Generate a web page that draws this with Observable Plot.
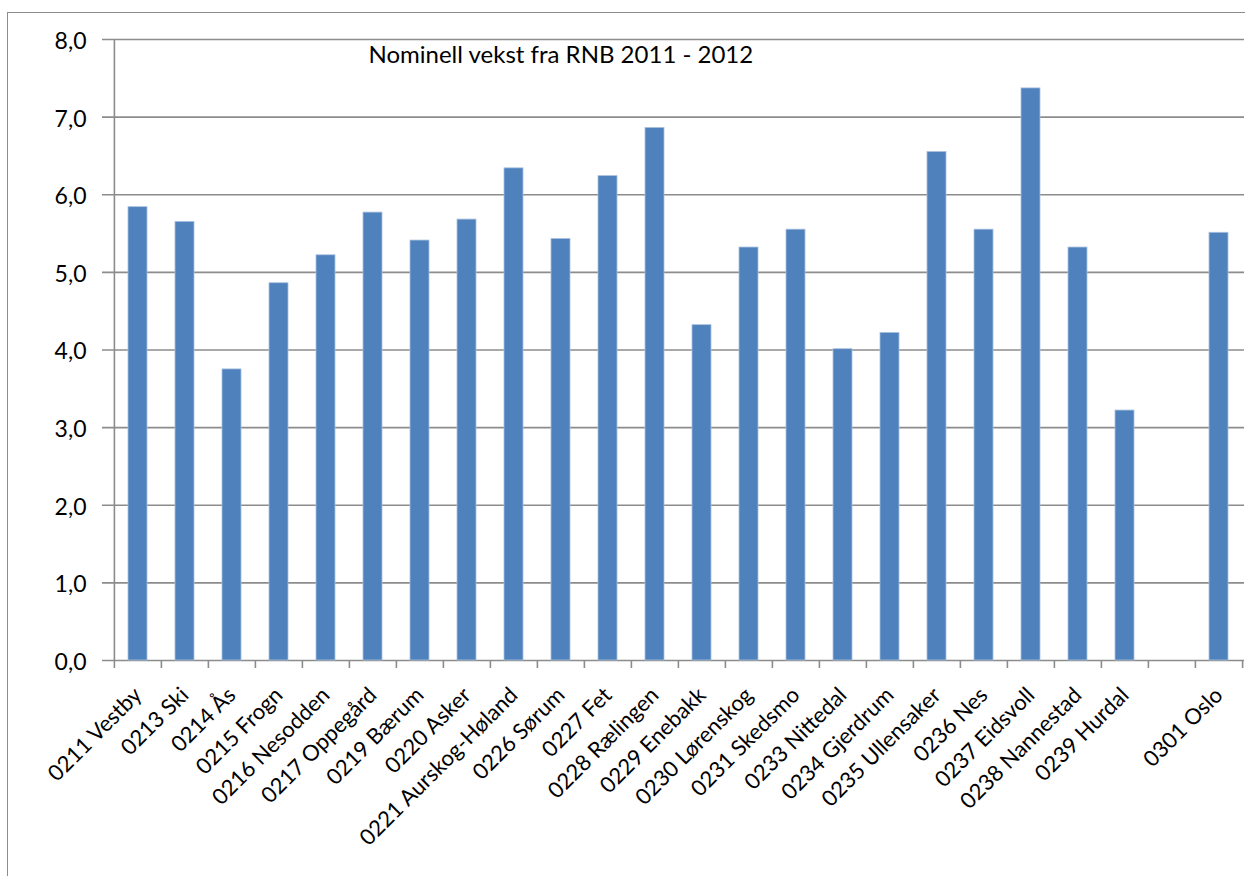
<!DOCTYPE html>
<html><head><meta charset="utf-8">
<script src="https://cdn.jsdelivr.net/npm/d3@7"></script>
<script src="https://cdn.jsdelivr.net/npm/@observablehq/plot@0.6"></script>
<style>
body{margin:0;background:#fff;}
#wrap{position:relative;width:1245px;height:876px;overflow:hidden;}
#chart{position:absolute;left:0;top:0;}
#frame{position:absolute;left:7px;top:12px;width:1300px;height:900px;border-left:1.5px solid #8c8c8c;border-top:1.5px solid #8c8c8c;pointer-events:none;}
</style></head><body>
<div id="wrap"><div id="chart"></div><div id="frame"></div></div>
<script>
const title = "Nominell vekst fra RNB 2011 - 2012";
const categories = ["0211 Vestby","0213 Ski","0214 Ås","0215 Frogn","0216 Nesodden","0217 Oppegård","0219 Bærum","0220 Asker","0221 Aurskog-Høland","0226 Sørum","0227 Fet","0228 Rælingen","0229 Enebakk","0230 Lørenskog","0231 Skedsmo","0233 Nittedal","0234 Gjerdrum","0235 Ullensaker","0236 Nes","0237 Eidsvoll","0238 Nannestad","0239 Hurdal","","0301 Oslo"];
const values = [5.84,5.65,3.75,4.86,5.22,5.77,5.41,5.68,6.34,5.43,6.24,6.86,4.32,5.32,5.55,4.01,4.22,6.55,5.55,7.37,5.32,3.22,null,5.51];
const yTicks = [0,1,2,3,4,5,6,7,8];

const W = 1245, H = 876, ML = 111, MR = 1, MT = 39, MB = 216;
const step = (W - ML - MR) / categories.length;
const data = categories.map((name, i) => ({name, value: values[i]})).filter(d => d.value != null);
const fmt = d => d.toFixed(1).replace(".", ",");
const gridColor = "#8c8c8c";
const font = "Lato, 'Open Sans', sans-serif";

const plot = Plot.plot({
  width: W, height: H,
  marginLeft: ML, marginRight: MR, marginTop: MT, marginBottom: MB,
  style: {fontFamily: font, fontSize: "21px", background: "transparent", color: "#000"},
  x: {domain: categories, paddingInner: 0.6, paddingOuter: 0.3, axis: null},
  y: {domain: [0, 8], axis: null},
  marks: [
    Plot.ruleY(yTicks, {y: d => d, stroke: gridColor, strokeWidth: 1.6, insetLeft: -9}),
    Plot.ruleX(categories, {x: d => d, dx: -step / 2, y1: 0, y2: 0, insetBottom: -8, stroke: gridColor, strokeWidth: 1.6}),
    Plot.ruleX(categories.slice(-1), {x: d => d, dx: step / 2, y1: 0, y2: 0, insetBottom: -8, stroke: gridColor, strokeWidth: 1.6}),
    Plot.ruleX(categories.slice(0, 1), {x: d => d, dx: -step / 2, y1: 0, y2: 8, stroke: gridColor, strokeWidth: 1.6}),
    Plot.barY(data, {x: "name", y: "value", fill: "#4F81BD", stroke: "#a9c0de", strokeWidth: 0.8}),
    Plot.text(yTicks, {y: d => d, text: d => fmt(d), frameAnchor: "left", dx: -25, dy: 2, textAnchor: "end", fill: "#000", fontSize: 23}),
    Plot.text(data, {x: "name", text: "name", frameAnchor: "bottom", rotate: -45, textAnchor: "end", lineAnchor: "top", dx: -6, dy: 25, fill: "#000", fontSize: 22}),
    Plot.text([title], {text: d => d, frameAnchor: "top-left", dx: 257, dy: 23, textAnchor: "start", lineAnchor: "bottom", fill: "#000", fontSize: 24})
  ]
});
document.getElementById("chart").appendChild(plot);
</script>
</body></html>
